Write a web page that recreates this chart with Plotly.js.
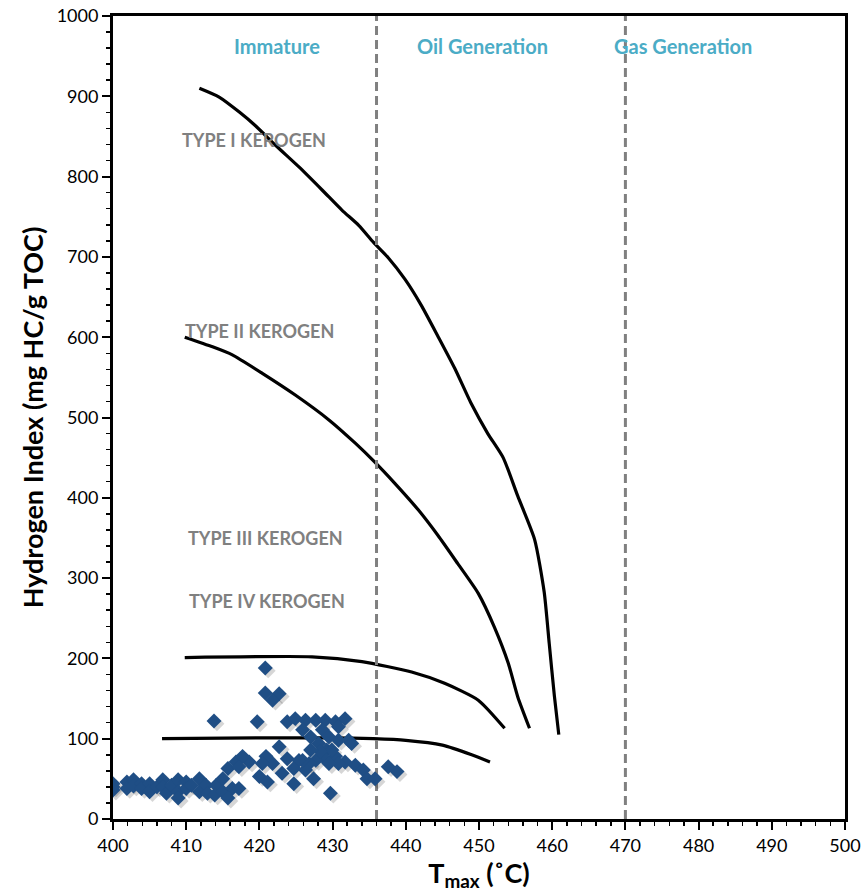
<!DOCTYPE html>
<html><head><meta charset="utf-8">
<script src="https://cdn.plot.ly/plotly-3.0.1.min.js"></script>
<style>html,body{margin:0;padding:0;background:#fff}#chart{width:861px;height:894px}</style>
</head><body><div id="chart"></div>
<script>
// Kerogen type boundary curves (Tmax, HI)
const typeI_x = [411.8, 414.5, 417.3, 419.5, 422.2, 425.4, 428.6, 431.3, 433.6, 435.6, 437.6, 439.9, 442.1, 444.4, 446.7, 448.9, 451.2, 453.3, 455.3, 457.6, 458.9, 459.6, 460.3, 460.9];
const typeI_y = [910, 899, 880, 863, 839, 812, 783, 758, 739, 718, 699, 672, 640, 601, 561, 518, 480, 450, 402, 348, 283, 218, 153, 105];
const typeII_x = [409.8, 413.6, 416.3, 420.4, 424.9, 429.5, 433.1, 435.7, 438.5, 441.7, 444.4, 447.1, 449.9, 452.1, 454, 455.3, 456.9];
const typeII_y = [600, 588, 578, 555, 528, 497, 468, 445, 418, 385, 353, 318, 281, 239, 194, 152, 113];
const typeIII_x = [409.8, 427.2, 434, 440.8, 445.3, 449.9, 453.5];
const typeIII_y = [201, 202, 196, 183, 169, 148, 113];
const typeIV_x = [406.7, 420, 430, 435.6, 440, 445, 449, 451.5];
const typeIV_y = [100, 101, 101, 100, 98, 92, 80, 71];

// Maturity boundaries
const boundaries = [436, 470];

// Sample data
const tmax = [400,400,400,401.9,401.9,402.8,402.8,403.9,403.9,405,405,406,406.8,406.8,407.3,408,408.9,408.9,408.9,410,410,410.7,411.8,411.8,412.7,412.9,414.1,413.9,415,415,415.7,416.3,415.7,416.8,
  420.8,420.8,422.7,421.8,419.7,413.8,423.8,424.9,426.3,427.7,429,430.4,431.7,
  425.9,427,428.1,429.2,430.4,431.7,433.1,434.2,434.7,435.8,
  430.8,428.6,429.5,430.8,432.2,432.6,429.9,428.6,427.7,426.8,426.3,427.4,430.8,429.5,428.4,427,425.9,
  422.7,423.8,425.4,424.7,424.7,423.1,421.8,420.9,420.4,420,421.1,418.6,417.7,417.2,417.2,429.7,437.6,438.8];
const hi = [44,36,40,46,38,49,41,44,38,44,34,40,49,40,32,42,49,34,26,46,38,42,50,34,42,32,42,30,50,34,63,38,26,71,
  188,157,156,148,121,122,121,125,123,123,123,121,125,
  111,102,94,86,78,71,67,61,50,50,
  115,111,102,98,98,94,86,78,73,69,61,50,69,69,84,86,73,
  90,75,73,63,44,57,69,78,69,53,46,71,78,65,38,32,65,59];

const curveLine = {color: '#000000', width: 3.2, shape: 'spline', smoothing: 0.6};
const traces = [
  {x: typeI_x, y: typeI_y, mode: 'lines', line: curveLine, hoverinfo: 'skip'},
  {x: typeII_x, y: typeII_y, mode: 'lines', line: curveLine, hoverinfo: 'skip'},
  {x: typeIII_x, y: typeIII_y, mode: 'lines', line: curveLine, hoverinfo: 'skip'},
  {x: typeIV_x, y: typeIV_y, mode: 'lines', line: curveLine, hoverinfo: 'skip'}
];
boundaries.forEach(b => traces.push({x: [b, b], y: [0, 1000], mode: 'lines',
  line: {color: '#808080', width: 3, dash: '9px,5px'}, hoverinfo: 'skip'}));
// soft shadow under markers
traces.push({x: tmax.map(v => v + 0.4), y: hi.map(v => v - 3.5), mode: 'markers',
  marker: {symbol: 'diamond', size: 11.5, color: 'rgba(0,0,0,0.16)'}, hoverinfo: 'skip'});
traces.push({x: tmax, y: hi, mode: 'markers',
  marker: {symbol: 'diamond', size: 11.5, color: '#1f4e85', line: {width: 0}}});

const F = 'Lato, "Open Sans", sans-serif';
const typeLabel = (x, y, t) => ({x, y, text: '<b>' + t + '</b>', showarrow: false,
  font: {family: F, size: 18, color: '#808080'}, xanchor: 'center', yanchor: 'middle'});
const zoneLabel = (x, t) => ({x, y: 963, text: '<b>' + t + '</b>', showarrow: false,
  font: {family: F, size: 20, color: '#4bacc6'}, xanchor: 'center', yanchor: 'middle'});

const layout = {
  width: 861, height: 894,
  margin: {l: 113, r: 16, t: 16, b: 75},
  paper_bgcolor: '#ffffff', plot_bgcolor: '#ffffff',
  showlegend: false,
  font: {family: F, color: '#000000'},
  xaxis: {range: [400, 500], dtick: 10, tick0: 400, showgrid: false, zeroline: false,
    showline: true, linecolor: '#000', linewidth: 3, mirror: true,
    ticks: 'outside', ticklen: 8, tickwidth: 2, tickcolor: '#000', ticklabeloverflow: 'allow',
    minor: {dtick: 2, ticks: 'outside', ticklen: 4, tickwidth: 1.5, tickcolor: '#000', showgrid: false},
    tickfont: {family: F, size: 18, color: '#000'},
    title: {text: '<b>T<sub>max</sub> (˚C)</b>', font: {family: F, size: 27, color: '#000'}, standoff: 5}},
  yaxis: {range: [0, 1000], dtick: 100, tick0: 0, showgrid: false, zeroline: false,
    showline: true, linecolor: '#000', linewidth: 3, mirror: true,
    ticks: 'outside', ticklen: 8, tickwidth: 2, tickcolor: '#000', ticklabeloverflow: 'allow',
    minor: {dtick: 20, ticks: 'outside', ticklen: 4, tickwidth: 1.5, tickcolor: '#000', showgrid: false},
    tickfont: {family: F, size: 18, color: '#000'},
    title: {text: '<b>Hydrogen Index (mg HC/g TOC)</b>', font: {family: F, size: 27, color: '#000'}, standoff: 6}},
  annotations: [
    zoneLabel(422.4, 'Immature'), zoneLabel(450.5, 'Oil Generation'), zoneLabel(477.9, 'Gas Generation'),
    typeLabel(419.2, 846, 'TYPE I KEROGEN'), typeLabel(420.0, 608, 'TYPE II KEROGEN'),
    typeLabel(420.8, 350, 'TYPE III KEROGEN'), typeLabel(421.0, 271, 'TYPE IV KEROGEN')
  ]
};
Plotly.newPlot('chart', traces, layout, {displayModeBar: false, staticPlot: true});
</script></body></html>
